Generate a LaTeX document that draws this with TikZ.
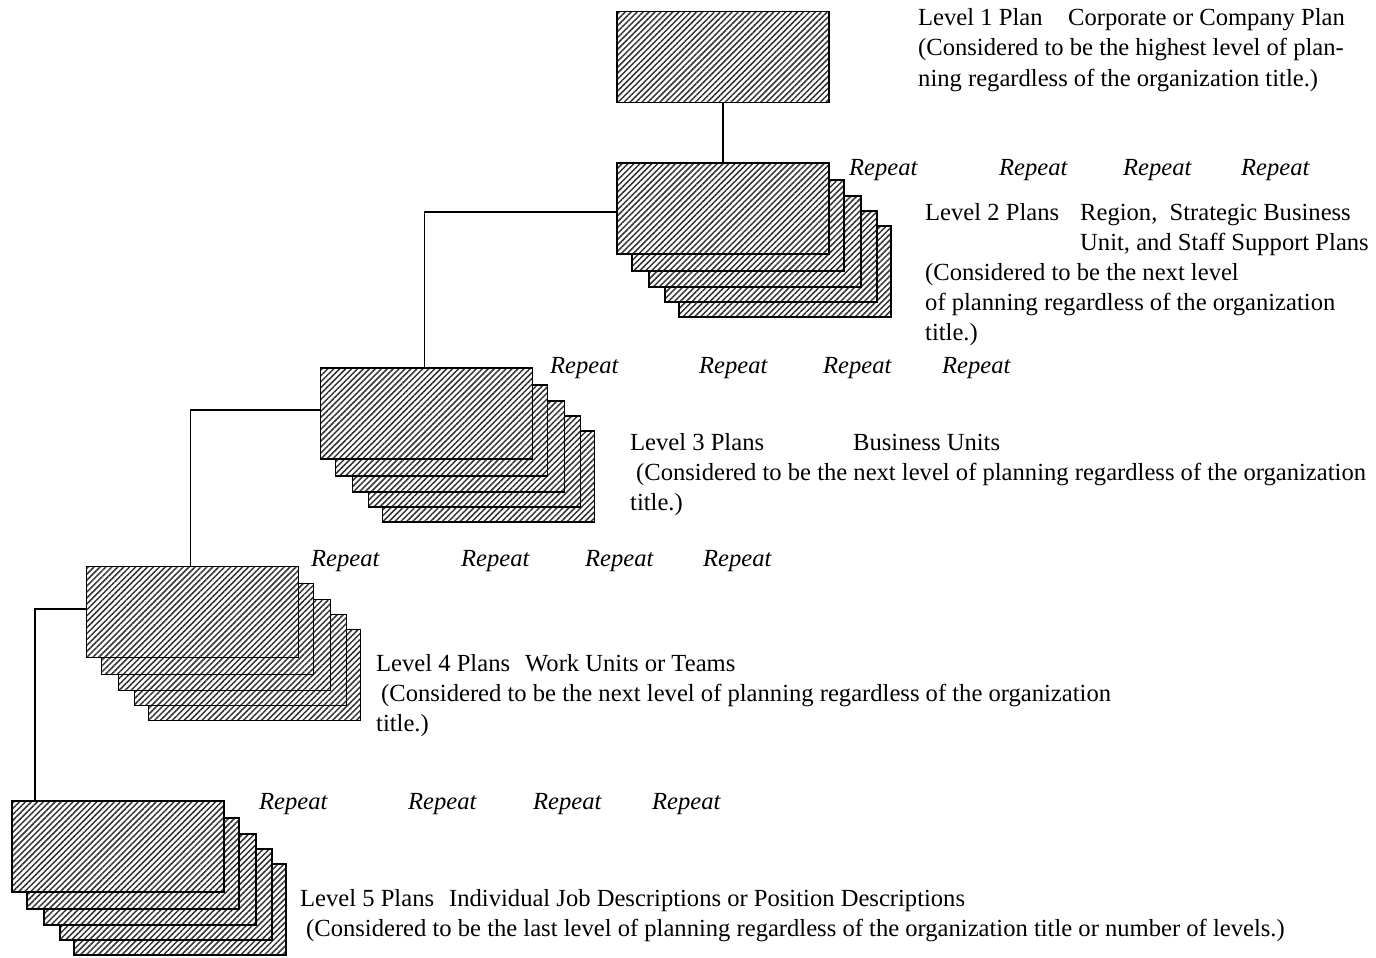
\documentclass[tikz,border=0pt]{standalone}
\usepackage{fontspec}
\setmainfont{Liberation Serif}
\usetikzlibrary{patterns.meta}
\tikzset{
  planbox/.style={draw=black, line width=1.7pt, minimum width=212pt, minimum height=91pt,
    inner sep=0pt, preaction={fill=white},
    pattern={Lines[angle=45,distance=4.2pt,line width=1.5pt]}, pattern color=black!80},
  txt/.style={anchor=base west, inner sep=0pt, font=\fontsize{24.6}{30}\selectfont},
  rep/.style={txt, font=\fontsize{24.6}{30}\selectfont\itshape},
  conn/.style={line width=1.8pt}
}
\newcommand{\planstack}[3]{% name, x, y (front box center)
  \node[planbox] (#1e) at (#2+62,#3+63) {};
  \node[planbox] (#1d) at (#2+48,#3+48) {};
  \node[planbox] (#1c) at (#2+32,#3+33) {};
  \node[planbox] (#1b) at (#2+15,#3+17) {};
  \node[planbox] (#1) at (#2,#3) {};
}
\begin{document}
\begin{tikzpicture}[x=1pt,y=-1pt]
\useasboundingbox (0,0) rectangle (1376,958);
% Level 1
\node[planbox] (L1) at (723,57) {};
% stacks
\planstack{L2}{723}{208.5}
\planstack{L3}{426.5}{413.5}
\planstack{L4}{192.5}{612}
\planstack{L5}{118}{846.5}
% connectors
\draw[conn] (L1.south) -- (L2.north);
\draw[conn] ([yshift=-3.5pt]L2.west) -| ([xshift=-2pt]L3.north);
\draw[conn] ([yshift=3.5pt]L3.west) -| ([xshift=-2pt]L4.north);
\draw[conn] ([yshift=3pt]L4.west) -| ([xshift=24pt]L5.north west);
% Level 1 text
\node[txt] (t1a) at (918,26) {Level 1 Plan};
\node[txt] (t1b) at (1068,26) {Corporate or Company Plan};
\node[txt] (t1c) at (918,56) {(Considered to be the highest level of plan-};
\node[txt] (t1d) at (918,86) {ning regardless of the organization title.)};
% Level 2
\node[rep] (r2a) at (849,175) {Repeat};
\node[rep] (r2b) at (999,175) {Repeat};
\node[rep] (r2c) at (1123,175) {Repeat};
\node[rep] (r2d) at (1241,175) {Repeat};
\node[txt] (t2a) at (925,220) {Level 2 Plans};
\node[txt] (t2b) at (1080,220) {Region,\ \ Strategic Business};
\node[txt] (t2c) at (1080,250) {Unit, and Staff Support Plans};
\node[txt] (t2d) at (925,280) {(Considered to be the next level};
\node[txt] (t2e) at (925,310) {of planning regardless of the organization};
\node[txt] (t2f) at (925,340) {title.)};
% Level 3
\node[rep] (r3a) at (550,373) {Repeat};
\node[rep] (r3b) at (699,373) {Repeat};
\node[rep] (r3c) at (823,373) {Repeat};
\node[rep] (r3d) at (942,373) {Repeat};
\node[txt] (t3a) at (630,450) {Level 3 Plans};
\node[txt] (t3b) at (853,450) {Business Units};
\node[txt] (t3c) at (636,480) {(Considered to be the next level of planning regardless of the organization};
\node[txt] (t3d) at (630,510) {title.)};
% Level 4
\node[rep] (r4a) at (311,566) {Repeat};
\node[rep] (r4b) at (461,566) {Repeat};
\node[rep] (r4c) at (585,566) {Repeat};
\node[rep] (r4d) at (703,566) {Repeat};
\node[txt] (t4a) at (376,671) {Level 4 Plans};
\node[txt] (t4b) at (525,671) {Work Units or Teams};
\node[txt] (t4c) at (381,701) {(Considered to be the next level of planning regardless of the organization};
\node[txt] (t4d) at (376,731) {title.)};
% Level 5
\node[rep] (r5a) at (259,809) {Repeat};
\node[rep] (r5b) at (408,809) {Repeat};
\node[rep] (r5c) at (533,809) {Repeat};
\node[rep] (r5d) at (652,809) {Repeat};
\node[txt] (t5a) at (300,906) {Level 5 Plans};
\node[txt] (t5b) at (449,906) {Individual Job Descriptions or Position Descriptions};
\node[txt] (t5c) at (306,936) {(Considered to be the last level of planning regardless of the organization title or number of levels.)};
\end{tikzpicture}
\end{document}
